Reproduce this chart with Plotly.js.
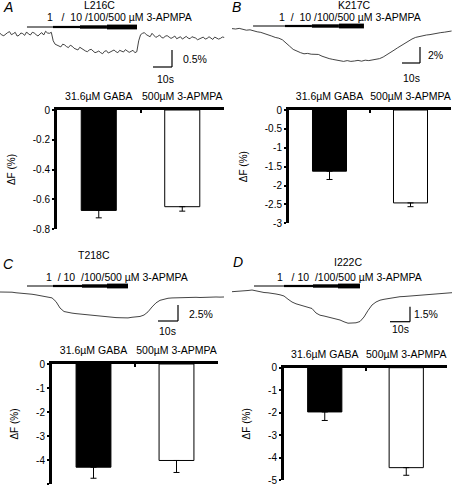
<!DOCTYPE html>
<html><head><meta charset="utf-8">
<script src="https://cdn.plot.ly/plotly-3.0.1.min.js"></script>
<style>html,body{margin:0;padding:0;background:#fff}#chart{width:453px;height:489px}</style>
</head><body><div id="chart"></div>
<script>
const W = 453, H = 489;
const FONT = 'Liberation Sans, Arial, sans-serif';

// ---------- data ----------
const categories = ['31.6µM GABA', '500µM 3-APMPA'];
const mutants = ['L216C', 'K217C', 'T218C', 'I222C'];
const panelLetters = ['A', 'B', 'C', 'D'];
const concLabels = [
  '1\u00a0\u00a0\u00a0/\u00a0\u00a010 /100/500 µM 3-APMPA',
  '1\u00a0\u00a0/\u00a0\u00a010 /100/500 µM 3-APMPA',
  '1\u00a0\u00a0/\u00a010\u00a0\u00a0/100/500 µM 3-APMPA',
  '1\u00a0\u00a0\u00a0/\u00a010\u00a0\u00a0/100/500 µM 3-APMPA'
];

const meanA = [-0.675, -0.65], semA = [0.05, 0.03];
const meanB = [-1.62, -2.46], semB = [0.22, 0.10];
const meanC = [-4.30, -4.02], semC = [0.46, 0.50];
const meanD = [-1.97, -4.45], semD = [0.38, 0.34];

const yTicksA = [0, -0.2, -0.4, -0.6, -0.8];
const yTicksB = [0, -0.5, -1, -1.5, -2, -2.5, -3];
const yTicksC = [0, -1, -2, -3, -4, -5];
const yTicksD = [0, -1, -2, -3, -4, -5];

// fluorescence traces: time (s) and ΔF (%)
const timeA = [0,1,2,3,4,5,6,7,8,9,10,11,12,13,14,15,16,17,18,19,20,21,22,23,24,25,26,27,28,29,30,31,32,33,34,35,36,37,38,39,40,41,42,43,44,45,46,47,48,49,50,51,52,53,54,55,56,57,58,59,60,61,62,63,64,65,66,67,68,69,70,71,72,73,74,75,76,77,78,79,80,81,82,83,84,85,86,87,88,89,90,91,92,93,94,95,96,97,98,99,100,101,102,103,104,105,106,107,108,109,110,111,112,113,114,115,116,117,118];
const dfA = [0.02,-0.03,-0.05,0.0,0.04,0.07,-0.02,0.01,0.05,-0.06,-0.04,0.03,0.01,-0.04,0.06,0.0,-0.03,0.05,0.03,-0.02,-0.06,0.0,0.04,-0.03,0.08,0.03,0.02,0.05,-0.2,-0.3,-0.33,-0.36,-0.38,-0.3,-0.32,-0.37,-0.4,-0.33,-0.36,-0.42,-0.44,-0.47,-0.39,-0.43,-0.48,-0.5,-0.52,-0.47,-0.45,-0.5,-0.55,-0.53,-0.5,-0.55,-0.58,-0.51,-0.49,-0.56,-0.53,-0.5,-0.47,-0.52,-0.55,-0.48,-0.5,-0.53,-0.46,-0.5,-0.54,-0.51,-0.48,-0.55,-0.52,-0.2,-0.02,0.02,0.04,-0.02,-0.06,-0.08,0.02,-0.04,-0.1,-0.07,-0.03,-0.1,-0.12,-0.06,-0.05,-0.09,-0.13,-0.1,-0.06,-0.14,-0.1,-0.08,-0.15,-0.11,-0.07,-0.12,-0.14,-0.08,-0.09,-0.12,-0.17,-0.14,-0.1,-0.09,-0.15,-0.13,-0.08,-0.12,-0.16,-0.09,-0.11,-0.15,-0.13,-0.09,-0.1];

const timeB = [0,2,4,6,8,10,12,14,16,18,20,22,24,26,28,30,32,34,36,38,40,42,44,46,48,50,52,54,56,58,60,62,64,66,68,70,72,74,76,78,80,82,84,86,88,90,92,94,96,98,100,102,104,106,108,110,112,114,116,118,120,122];
const dfB = [0.05,0.0,0.08,-0.05,-0.15,-0.1,-0.25,-0.35,-0.42,-0.55,-0.7,-0.88,-1.05,-1.15,-1.35,-1.7,-2.15,-2.55,-2.8,-2.95,-3.1,-3.05,-3.15,-3.2,-3.18,-3.4,-3.6,-3.7,-3.8,-3.9,-3.95,-4.05,-3.95,-4.05,-4.0,-3.92,-4.02,-3.9,-3.95,-3.85,-3.82,-3.7,-3.5,-3.25,-2.95,-2.65,-2.35,-2.05,-1.75,-1.5,-1.25,-1.05,-0.92,-0.85,-0.75,-0.7,-0.6,-0.58,-0.45,-0.4,-0.3,-0.25];

const timeC = [0,2,4,6,8,10,12,14,16,18,20,22,24,26,28,30,32,34,36,38,40,42,44,46,48,50,52,54,56,58,60,62,64,66,68,70,72,74,76,78,80,82,84,86,88,90,92,94,96,98,100,102,104,106,108,110,112];
const dfC = [0,0.02,-0.05,-0.03,-0.12,-0.16,-0.2,-0.28,-0.35,-0.45,-0.55,-0.66,-0.8,-0.92,-1.5,-2.5,-3.05,-3.22,-3.3,-3.38,-3.45,-3.55,-3.6,-3.65,-3.7,-3.75,-3.8,-3.88,-3.95,-4.0,-4.02,-4.06,-4.05,-3.95,-3.9,-3.82,-3.6,-3.1,-2.34,-1.7,-1.3,-1.1,-0.98,-0.93,-0.9,-0.88,-0.9,-0.86,-0.85,-0.83,-0.86,-0.82,-0.8,-0.82,-0.78,-0.8,-0.78];

const timeD = [0,2,4,6,8,10,12,14,16,18,20,22,24,26,28,30,32,34,36,38,40,42,44,46,48,50,52,54,56,58,60,62,64,66,68,70,72,74,76,78,80,82,84,86,88,90,92,94,96,98,100,102,104,106,108,110];
const dfD = [0.03,0.05,0.1,0.08,0.15,0.2,0.1,0.05,-0.05,-0.08,-0.12,-0.2,-0.28,-0.4,-0.72,-1.0,-1.18,-1.3,-1.42,-1.52,-1.65,-2.1,-2.32,-2.4,-2.5,-2.58,-2.7,-2.8,-2.98,-3.12,-3.1,-3.08,-2.95,-2.5,-1.85,-1.3,-1.0,-0.82,-0.73,-0.65,-0.58,-0.52,-0.47,-0.45,-0.42,-0.38,-0.35,-0.33,-0.3,-0.28,-0.22,-0.2,-0.15,-0.12,-0.08,-0.07];

// drug application: start, concentration step changes, end (s)
const drugStepsA = [14.2, 27.9, 42.1, 56.3, 72.1];
const drugStepsB = [11.7, 29.4, 44.4, 59.4, 73.3];
const drugStepsC = [13.5, 26.5, 41.0, 53.5, 64.0];
const drugStepsD = [11.0, 26.0, 40.5, 53.0, 64.0];

const scalePct = [0.5, 2, 2.5, 1.5];
const scaleSec = 10;

// ---------- layout geometry (pixels) ----------
const panels = [
  {t: timeA, v: dfA, drug: drugStepsA, mean: meanA, sem: semA, ticks: yTicksA,
   ox: 0, oy: 34, sx: 1.9, sy: 34, dx: [0, 227], dy: [0, 92], drugY: 27,
   scale: [172, 67], pctLab: [182, 59], secLab: [165, 79],
   letter: [2, 7], name: [99, 5], conc: [46, 17],
   bdx: [57, 224], bdy: [110, 229]},
  {t: timeB, v: dfB, drug: drugStepsB, mean: meanB, sem: semB, ticks: yTicksB,
   ox: 232, oy: 29, sx: 1.8, sy: 8, dx: [227, 453], dy: [0, 92], drugY: 26,
   scale: [420, 63], pctLab: [427, 55], secLab: [411, 78],
   letter: [231, 7], name: [354, 5], conc: [278, 17],
   bdx: [289, 451], bdy: [110, 223.3]},
  {t: timeC, v: dfC, drug: drugStepsC, mean: meanC, sem: semC, ticks: yTicksC,
   ox: 0, oy: 292, sx: 2.0, sy: 6.4, dx: [0, 227], dy: [240, 340], drugY: 286,
   scale: [178, 321], pctLab: [188, 314], secLab: [167, 331],
   letter: [2, 264], name: [94, 255], conc: [45, 277],
   bdx: [52, 218], bdy: [364, 484]},
  {t: timeD, v: dfD, drug: drugStepsD, mean: meanD, sem: semD, ticks: yTicksD,
   ox: 232, oy: 292, sx: 2.0, sy: 10, dx: [227, 453], dy: [240, 340], drugY: 286,
   scale: [410, 321.7], pctLab: [413, 314], secLab: [400, 329],
   letter: [232, 262], name: [348, 262], conc: [276, 277],
   bdx: [284, 447], bdy: [367.7, 480]}
];

const fx = x => x / W, fy = y => 1 - y / H;
const sfx = n => (n === 1 ? '' : String(n));
const stepWidths = [1, 2.2, 3.4, 4.8];

const layout = {
  width: W, height: H, margin: {l: 0, r: 0, t: 0, b: 0},
  paper_bgcolor: '#fff', plot_bgcolor: 'rgba(0,0,0,0)', showlegend: false,
  font: {family: FONT, size: 10, color: '#000'},
  shapes: [], annotations: []
};
const data = [];

panels.forEach((p, i) => {
  // ---- trace subplot ----
  const s = sfx(i + 1);
  layout['xaxis' + s] = {domain: [fx(p.dx[0]), fx(p.dx[1])],
    range: [(p.dx[0] - p.ox) / p.sx, (p.dx[1] - p.ox) / p.sx],
    visible: false, fixedrange: true, anchor: 'y' + s};
  layout['yaxis' + s] = {domain: [fy(p.dy[1]), fy(p.dy[0])],
    range: [(p.oy - p.dy[1]) / p.sy, (p.oy - p.dy[0]) / p.sy],
    visible: false, fixedrange: true, anchor: 'x' + s};
  data.push({type: 'scatter', mode: 'lines', x: p.t, y: p.v, xaxis: 'x' + s, yaxis: 'y' + s,
    line: {color: '#222', width: 0.85}, hoverinfo: 'skip'});
  for (let k = 0; k < 4; k++) {
    layout.shapes.push({type: 'line', xref: 'x' + s, yref: 'paper',
      x0: p.drug[k], x1: p.drug[k + 1], y0: fy(p.drugY), y1: fy(p.drugY),
      line: {color: '#000', width: stepWidths[k]}});
  }
  const cx = (p.scale[0] - p.ox) / p.sx, cy = (p.oy - p.scale[1]) / p.sy;
  layout.shapes.push({type: 'line', xref: 'x' + s, yref: 'y' + s, x0: cx, x1: cx, y0: cy, y1: cy + scalePct[i], line: {color: '#000', width: 1.2}});
  layout.shapes.push({type: 'line', xref: 'x' + s, yref: 'y' + s, x0: cx - scaleSec, x1: cx, y0: cy, y1: cy, line: {color: '#000', width: 1.2}});
  const ann = (txt, x, y, xa, size) => layout.annotations.push({
    text: txt, xref: 'paper', yref: 'paper', x: fx(x), y: fy(y), xanchor: xa, yanchor: 'middle',
    showarrow: false, font: {size: size, family: FONT, color: '#000'}, borderpad: 0});
  ann(scalePct[i] + '%', p.pctLab[0], p.pctLab[1], 'left', 10.5);
  ann(scaleSec + 's', p.secLab[0], p.secLab[1], 'center', 10.5);
  ann('<i>' + panelLetters[i] + '</i>', p.letter[0], p.letter[1], 'left', 14);
  ann(mutants[i], p.name[0], p.name[1], 'center', 10.5);
  ann(concLabels[i], p.conc[0], p.conc[1], 'left', 10.5);

  // ---- bar subplot ----
  const b = sfx(i + 5);
  layout['xaxis' + b] = {domain: [fx(p.bdx[0]), fx(p.bdx[1])], type: 'category', range: [-0.5, 1.5],
    side: 'top', showline: true, linewidth: 3, linecolor: '#000', ticks: 'inside', tickson: 'boundaries',
    ticklen: 3, tickwidth: 2, tickcolor: '#000', showgrid: false, zeroline: false, tickangle: 0,
    tickfont: {size: 10.5, family: FONT}, ticklabelstandoff: 3, fixedrange: true, anchor: 'y' + b};
  layout['yaxis' + b] = {domain: [fy(p.bdy[1]), fy(p.bdy[0])], range: [p.ticks[p.ticks.length - 1], 0],
    showline: true, linewidth: 3, linecolor: '#000', ticks: 'outside', ticklen: 2, tickwidth: 2, tickcolor: '#000',
    tickvals: p.ticks, ticktext: p.ticks.map(String), showgrid: false, zeroline: false,
    tickfont: {size: 10, family: FONT}, fixedrange: true, anchor: 'x' + b,
    title: {text: 'ΔF (%)', font: {size: 10, family: FONT}, standoff: 16}};
  data.push({type: 'bar', x: categories, y: p.mean, xaxis: 'x' + b, yaxis: 'y' + b, width: 0.42,
    marker: {color: ['#000', '#fff'], line: {color: '#000', width: 1}},
    error_y: {type: 'data', symmetric: false, array: [0, 0], arrayminus: p.sem, color: '#000', thickness: 1, width: 3},
    hoverinfo: 'skip'});
});

Plotly.newPlot('chart', data, layout, {staticPlot: true, displayModeBar: false});
</script></body></html>
